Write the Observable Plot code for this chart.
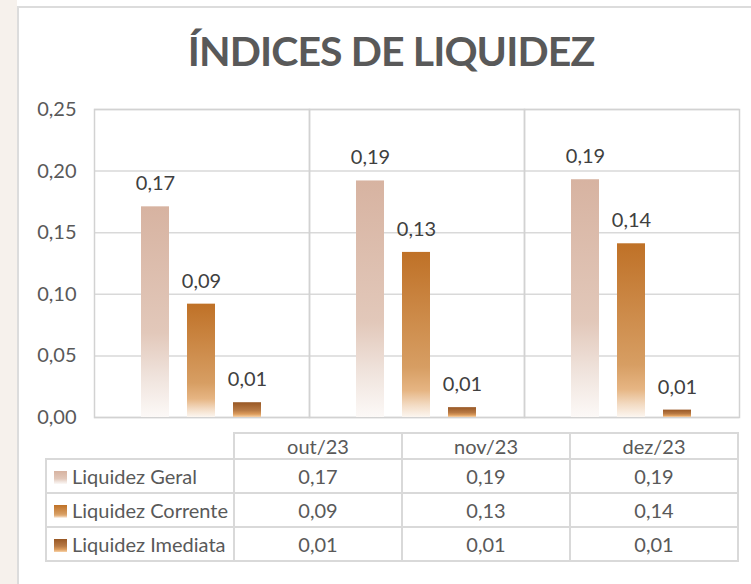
<!DOCTYPE html>
<html><head><meta charset="utf-8">
<script src="https://cdn.jsdelivr.net/npm/d3@7"></script>
<script src="https://cdn.jsdelivr.net/npm/@observablehq/plot@0.6"></script>
<style>
body{margin:0;background:#fff;}
#wrap{position:relative;width:751px;height:584px;overflow:hidden;font-family:Lato,"Open Sans",sans-serif;color:#595959;}
#strip{position:absolute;left:0;top:0;width:17px;height:584px;background:#f6f1ec;}
#card{position:absolute;left:17px;top:6px;width:800px;height:640px;border-left:2px solid #dcdcdc;border-top:2px solid #dcdcdc;background:#fff;}
#title{position:absolute;left:0;width:782px;top:26px;text-align:center;font-weight:700;font-size:41px;color:#595959;letter-spacing:-0.9px;}
#chart{position:absolute;left:0;top:90px;}
#tbl{position:absolute;left:45px;top:432px;border-collapse:collapse;font-size:20px;color:#595959;}
#tbl td{border:2px solid #d9d9d9;padding:0;text-align:center;line-height:1;}
#tbl tr.h td{height:24px;}
#tbl tr.r td{height:32px;}
#tbl td.blank{border-top:none;border-left:none;}
#tbl td.lab{text-align:left;padding-left:7px;white-space:nowrap;}
.sw{display:inline-block;width:13px;height:13px;margin-right:5px;vertical-align:0px;}
</style></head>
<body>
<div id="wrap">
  <div id="strip"></div>
  <div id="card"></div>
  <div id="title">ÍNDICES DE LIQUIDEZ</div>
  <div id="chart"></div>
  <table id="tbl"></table>
</div>
<script>
const months = ["out/23", "nov/23", "dez/23"];
const series = ["Liquidez Geral", "Liquidez Corrente", "Liquidez Imediata"];
const geral = [0.171, 0.192, 0.193];
const corrente = [0.092, 0.134, 0.141];
const imediata = [0.012, 0.008, 0.006];
const yTicks = [0, 0.05, 0.10, 0.15, 0.20, 0.25];

const seriesValues = [geral, corrente, imediata];
const gradIds = ["gGeral", "gCorrente", "gImediata"];
const gradStops = [
  [[0, "#d7b3a1"], [0.6, "#e2c8ba"], [0.8, "#efe2db"], [1, "#fcf9f7"]],
  [[0, "#bf7127"], [0.7, "#d79e63"], [0.84, "#e6b583"], [0.93, "#f3dcc5"], [1, "#fcf6f0"]],
  [[0, "#985724"], [0.55, "#b87a45"], [0.8, "#dc9c5c"], [1, "#f7d2a8"]]
];
const fmt = v => d3.format(".2f")(v).replace(".", ",");

const rows = months.flatMap((m, i) => series.map((s, j) => ({month: m, series: s, value: seriesValues[j][i]})));

const chart = Plot.plot({
  width: 751,
  height: 340,
  marginLeft: 93,
  marginRight: 11,
  marginTop: 19,
  marginBottom: 13,
  style: {fontFamily: "Lato, 'Open Sans', sans-serif", background: "transparent"},
  fx: {domain: months, padding: 0, axis: null},
  x: {domain: series, paddingInner: 0.39, paddingOuter: 1.03, axis: null},
  y: {domain: [0, 0.25], axis: null},
  color: {domain: series, range: gradIds.map(id => `url(#${id})`)},
  marks: [
    Plot.gridY(yTicks, {stroke: "#d9d9d9", strokeOpacity: 1, strokeWidth: 1.5}),
    Plot.frame({stroke: "#d2d2d2", strokeWidth: 1.5}),
    Plot.axisY(yTicks, {tickFormat: fmt, tickSize: 0, tickPadding: 18, fontSize: 20, fill: "#595959", label: null, facetAnchor: "left"}),
    Plot.barY(rows, {fx: "month", x: "series", y: "value", fill: "series"}),
    Plot.text(rows, {fx: "month", x: "series", y: "value", text: d => fmt(d.value), dy: -23, fontSize: 20, fill: "#404040"})
  ]
});

const defs = d3.select(chart).append("defs");
gradIds.forEach((id, k) => {
  const g = defs.append("linearGradient").attr("id", id).attr("x1", 0).attr("y1", 0).attr("x2", 0).attr("y2", 1);
  gradStops[k].forEach(([o, c]) => g.append("stop").attr("offset", o).attr("stop-color", c));
});
document.getElementById("chart").appendChild(chart);

// data table
const tbl = d3.select("#tbl");
const head = tbl.append("tr").attr("class", "h");
head.append("td").attr("class", "blank").style("width", "187px");
months.forEach(m => head.append("td").style("width", "166px").text(m));
series.forEach((s, j) => {
  const tr = tbl.append("tr").attr("class", "r");
  const td = tr.append("td").attr("class", "lab");
  const st = gradStops[j].map(([o, c]) => `${c} ${o * 100}%`).join(",");
  td.append("span").attr("class", "sw").style("background", `linear-gradient(to bottom, ${st})`);
  td.append("span").text(s);
  seriesValues[j].forEach(v => tr.append("td").text(fmt(v)));
});
</script>
</body></html>
